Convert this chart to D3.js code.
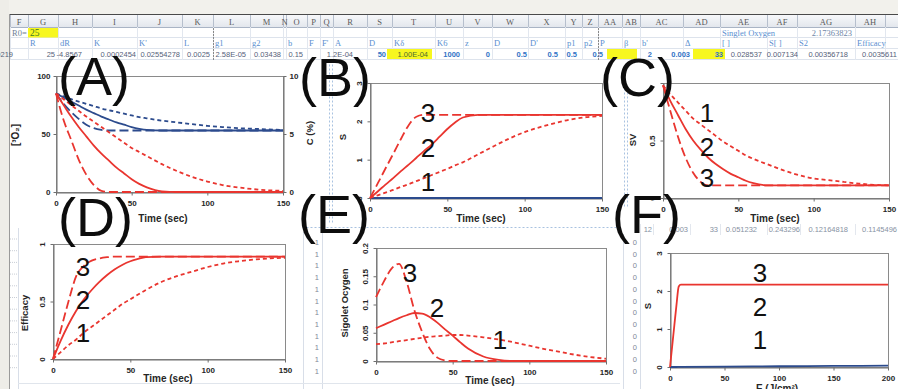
<!DOCTYPE html>
<html>
<head>
<meta charset="utf-8">
<script src="https://cdn.jsdelivr.net/npm/d3@7"></script>
<style>
  body { margin: 0; background: #fff; }
  svg { display: block; font-family: "Liberation Sans", Arial, sans-serif; }
</style>
</head>
<body>
<svg id="sheet" width="898" height="389"></svg>
<script>
// ---- data ----
// shared time grid (sec) for panels A-E
var time = [0,5,10,15,20,25,30,35,40,45,50,55,60,70,80,90,100,110,120,130,140,150];

// (A) ground state oxygen [3O2]
var o2Blue1 = [85,82.5,80,78,76,74,72,70.5,69,67.5,66,64.5,63.5,61.5,60,58.5,57,56,55,54.5,54,53.5];
var o2Blue2 = [85,81.5,78,74.5,71,68,65,62.5,60,58,56,54.5,53.5,53,53,53,53,53,53,53,53,53];
var o2Blue3 = [85,76,69,63,58,55,53.5,53,53,53,53,53,53,53,53,53,53,53,53,53,53,53];
var o2Red1  = [85,80,75,70,65,60.5,56,51.5,47,42.5,38,34.5,31,24,18,13,9,6,4,2.5,1.5,1];
var o2Red2  = [85,75,65,56,48,40,33,27,21,16,11,7,4,0.5,0,0,0,0,0,0,0,0];
var o2Red3  = [85,62,45,28,15,6,1,0,0,0,0,0,0,0,0,0,0,0,0,0,0,0];

// (B) S
var sRed1 = [0,0.07,0.14,0.21,0.29,0.36,0.44,0.52,0.6,0.68,0.76,0.85,0.93,1.14,1.35,1.55,1.72,1.85,1.96,2.05,2.11,2.14];
var sRed2 = [0,0.17,0.35,0.52,0.7,0.87,1.05,1.23,1.4,1.6,1.8,1.97,2.1,2.17,2.17,2.17,2.17,2.17,2.17,2.17,2.17,2.17];
var sRed3 = [0,0.38,0.77,1.15,1.54,1.9,2.12,2.17,2.17,2.17,2.17,2.17,2.17,2.17,2.17,2.17,2.17,2.17,2.17,2.17,2.17,2.17];
var sBlue = [0,0,0,0,0,0,0,0,0,0,0,0,0,0,0,0,0,0,0,0,0,0];

// (C) SV
var svRed1 = [0.98,0.9,0.83,0.76,0.69,0.64,0.59,0.54,0.49,0.45,0.41,0.37,0.34,0.29,0.24,0.2,0.17,0.155,0.14,0.125,0.115,0.11];
var svRed2 = [0.98,0.84,0.72,0.6,0.5,0.42,0.35,0.295,0.25,0.21,0.18,0.15,0.13,0.11,0.11,0.11,0.11,0.11,0.11,0.11,0.11,0.11];
var svRed3 = [0.98,0.75,0.53,0.35,0.22,0.14,0.11,0.11,0.11,0.11,0.11,0.11,0.11,0.11,0.11,0.11,0.11,0.11,0.11,0.11,0.11,0.11];

// (D) Efficacy
var effRed1 = [0,0.06,0.12,0.17,0.23,0.28,0.33,0.38,0.43,0.48,0.52,0.56,0.6,0.67,0.72,0.76,0.8,0.83,0.85,0.865,0.875,0.88];
var effRed2 = [0,0.16,0.3,0.42,0.52,0.6,0.67,0.73,0.78,0.82,0.85,0.87,0.885,0.89,0.89,0.89,0.89,0.89,0.89,0.89,0.89,0.89];
var effRed3 = [0,0.25,0.5,0.72,0.81,0.855,0.875,0.885,0.89,0.89,0.89,0.89,0.89,0.89,0.89,0.89,0.89,0.89,0.89,0.89,0.89,0.89];

// (E) singlet oxygen
var soRed1 = [0.030,0.031,0.033,0.035,0.037,0.039,0.041,0.043,0.044,0.045,0.046,0.046,0.045,0.042,0.038,0.033,0.027,0.021,0.016,0.011,0.007,0.004];
var soRed2 = [0.058,0.064,0.07,0.076,0.081,0.085,0.084,0.078,0.068,0.056,0.045,0.033,0.022,0.008,0.002,0,0,0,0,0,0,0];
var soRed3 = [0.113,0.14,0.163,0.172,0.14,0.09,0.052,0.022,0.006,0.001,0,0,0,0,0,0,0,0,0,0,0,0];

// (F) S against fluence E (J/cm2)
var fluence = [0,2,4,6,8,10,50,100,150,200];
var fRed  = [0,0.55,1.1,1.65,2.12,2.17,2.17,2.17,2.17,2.17];
var fBlue = [0,0,0,0,0.002,0.003,0.01,0.02,0.028,0.035];

// ---- spreadsheet text around the charts ----
var colEdges = [10,28,58,92,137,182,213,250,283,286,307,320,333,367,392,435,463,492,528,565,582,598,622,640,683,720,767,797,855,885,898];
var colNames = ["F","G","H","I","J","K","L","M","N","O","P","Q","R","S","T","U","V","W","X","Y","Z","AA","AB","AC","AD","AE","AF","AG","AH",""];
var row3Labels = ["","R","dR","K","K'","L","g1","g2","","b","F","F'","A","D","K\u03b4","K6","z","D","D'","p1","p2","P","\u03b2","b'","\u0394","[ ]","S[ ]","S2","Efficacy",""];
var row4Text  = ["0219","25","-4.8567","0.0002454","0.02554278","0.0025","2.58E-05","0.03438","0.15","1.2E-04","50","1.00E-04","1000","0","0.5","0.5","0.5","0.5","2","0.003","33","0.028537","0.007134","0.00356718","0.0035611"];
var row4Right = [13,55,82,136,180,210,246,281,303,353,386,428,460,490,527,558,577,603,652,690,723,762,798,848,897];
var row4Bold  = [false,false,false,false,false,false,false,false,false,false,true,false,true,true,true,true,true,true,true,true,true,false,false,false,false];
var midRowText  = ["12","0.003","33","0.051232","0.243296","0.12164818","0.1145496"];
var midRowRight = [652,688,718,757,800,848,897];

var red = "#e9352f", blue = "#2c4b8d";
var dashes = { short: "4,3", long: "9,4", solid: null };

var svg = d3.select("#sheet");

// ---- sheet background ----
svg.append("rect").attr("width", 898).attr("height", 389).attr("fill", "#fff");
svg.append("rect").attr("width", 898).attr("height", 14).attr("fill", "#f2f1ec");
svg.append("rect").attr("width", 9).attr("height", 389).attr("fill", "#eeede8");
svg.append("line").attr("x1", 9).attr("x2", 898).attr("y1", 14.5).attr("y2", 14.5).attr("stroke", "#4a4a4a");
svg.append("line").attr("x1", 9.5).attr("x2", 9.5).attr("y1", 14).attr("y2", 389).attr("stroke", "#9a9a9a");

var grad = svg.append("defs").append("linearGradient").attr("id", "hdr").attr("x1", 0).attr("x2", 0).attr("y1", 0).attr("y2", 1);
grad.append("stop").attr("offset", 0).attr("stop-color", "#f7f8fa");
grad.append("stop").attr("offset", 1).attr("stop-color", "#e3e7ed");
svg.append("rect").attr("x", 10).attr("y", 15).attr("width", 888).attr("height", 12).attr("fill", "url(#hdr)");

var sheet = svg.append("g").attr("class", "cells");
[27.5, 37.5, 48.5, 59.5].forEach(function(yy, i) {
  sheet.append("line").attr("x1", 10).attr("x2", 898).attr("y1", yy).attr("y2", yy)
    .attr("stroke", i === 0 ? "#a9b4c5" : "#dde3ec");
});
colEdges.forEach(function(xx) {
  sheet.append("line").attr("x1", xx + 0.5).attr("x2", xx + 0.5).attr("y1", 15).attr("y2", 27).attr("stroke", "#b6bfcd");
  sheet.append("line").attr("x1", xx + 0.5).attr("x2", xx + 0.5).attr("y1", 27).attr("y2", 60).attr("stroke", "#e2e7ef");
});
colNames.forEach(function(n, i) {
  sheet.append("text").attr("x", (colEdges[i] + colEdges[i + 1]) / 2).attr("y", 24.5)
    .attr("text-anchor", "middle").attr("font-family", "Liberation Serif, serif").attr("font-size", 8.5)
    .attr("fill", "#5b5b5b").text(n);
});
// page break lines
[213, 598].forEach(function(xx) {
  sheet.append("line").attr("x1", xx + 0.5).attr("x2", xx + 0.5).attr("y1", 28).attr("y2", 60)
    .attr("stroke", "#888").attr("stroke-dasharray", "2,1");
});

// row 2
sheet.append("rect").attr("x", 28).attr("y", 28).attr("width", 30).attr("height", 9.5).attr("fill", "#f7f71f");
sheet.append("text").attr("x", 12).attr("y", 35.5).attr("font-family", "Liberation Serif, serif").attr("font-size", 8.5).attr("fill", "#6f7f95").text("R0=");
sheet.append("text").attr("x", 30).attr("y", 36).attr("font-family", "Liberation Serif, serif").attr("font-size", 9.5).attr("fill", "#3b7a25").text("25");
sheet.append("text").attr("x", 722).attr("y", 35.5).attr("font-family", "Liberation Serif, serif").attr("font-size", 8.5).attr("fill", "#5b8fd0").text("Singlet Oxygen");
sheet.append("text").attr("x", 852).attr("y", 35.5).attr("text-anchor", "end").attr("font-family", "Liberation Serif, serif").attr("font-size", 8.5).attr("fill", "#6f87a8").text("2.17363823");

// row 3 labels
row3Labels.forEach(function(t, i) {
  if (!t) return;
  sheet.append("text").attr("x", colEdges[i] + 2).attr("y", 46).attr("font-family", "Liberation Serif, serif")
    .attr("font-size", 8.5).attr("fill", "#5b8fd0").text(t);
});

// row 4 numbers
[[387, 45], [607, 30], [693, 32]].forEach(function(r) {
  sheet.append("rect").attr("x", r[0]).attr("y", 49).attr("width", r[1]).attr("height", 10).attr("fill", "#f7f71f");
});
row4Text.forEach(function(t, i) {
  sheet.append("text").attr("x", row4Right[i]).attr("y", 57).attr("text-anchor", "end")
    .attr("font-size", 7.5).attr("font-weight", row4Bold[i] ? "bold" : "normal")
    .attr("fill", t === "1.00E-04" ? "#4d6b2f" : (row4Bold[i] ? "#3273c6" : "#56627a")).text(t);
});

// strips of sheet showing between the charts
midRowText.forEach(function(t, i) {
  sheet.append("text").attr("x", midRowRight[i]).attr("y", 232).attr("text-anchor", "end")
    .attr("font-size", 7.5).attr("fill", "#8792a3").text(t);
});
[640, 653, 690, 720, 767, 800, 855].forEach(function(xx) {
  sheet.append("line").attr("x1", xx + 0.5).attr("x2", xx + 0.5).attr("y1", 224).attr("y2", 235).attr("stroke", "#e3e7ee");
});
d3.range(12).forEach(function(k) {
  var yy = 245 + k * 11.7;
  sheet.append("text").attr("x", 319).attr("y", yy).attr("text-anchor", "end").attr("font-size", 7.5).attr("fill", "#7d8797").text("1");
  sheet.append("text").attr("x", 637).attr("y", yy).attr("text-anchor", "end").attr("font-size", 7.5).attr("fill", "#7d8797").text("0");
  sheet.append("line").attr("x1", 10).attr("x2", 17).attr("y1", yy - 6).attr("y2", yy - 6).attr("stroke", "#c9ced6").attr("stroke-dasharray", "1,1");
});
[[303, 232], [322, 232], [623, 234], [640, 234], [18, 228]].forEach(function(v) {
  sheet.append("line").attr("x1", v[0] + 0.5).attr("x2", v[0] + 0.5).attr("y1", v[1]).attr("y2", 389).attr("stroke", "#d8dee8");
});
// selection frames of the chart objects
[[329, 60, 329, 224], [332, 60, 332, 224], [624, 88, 624, 206], [627, 88, 627, 206], [302, 227, 620, 227]].forEach(function(l) {
  sheet.append("line").attr("x1", l[0] + 0.5).attr("y1", l[1] + 0.5).attr("x2", l[2] + 0.5).attr("y2", l[3] + 0.5)
    .attr("stroke", "#a9c2e0").attr("stroke-dasharray", "2,2");
});
sheet.append("line").attr("x1", 18).attr("x2", 620).attr("y1", 383.5).attr("y2", 383.5).attr("stroke", "#e0e5ec");

// ---- one Excel style chart ----
function drawPanel(p) {
  var x = d3.scaleLinear().domain(p.xDomain).range([p.box[0], p.box[2]]);
  var y = d3.scaleLinear().domain(p.yDomain).range([p.box[3], p.box[1]]);
  var g = svg.append("g");

  g.append("rect").attr("x", p.box[0] + 0.5).attr("y", p.box[1] + 0.5)
    .attr("width", p.box[2] - p.box[0]).attr("height", p.box[3] - p.box[1])
    .attr("fill", "#fff").attr("stroke", "#8a8a8a");

  var xAxis = g.append("g").attr("transform", "translate(0," + (p.box[3] + 0.5) + ")")
    .call(d3.axisBottom(x).tickValues(p.xTicks).tickSize(3).tickSizeOuter(0).tickPadding(5).tickFormat(d3.format("d")));
  var yAxis = g.append("g").attr("transform", "translate(" + (p.box[0] + 0.5) + ",0)")
    .call(d3.axisLeft(y).tickValues(p.yTicks).tickSize(3).tickSizeOuter(0).tickFormat(p.yFormat));
  var axes = [xAxis, yAxis];

  if (p.right) {
    var yR = d3.scaleLinear().domain(p.right.domain).range([p.box[3], p.box[1]]);
    axes.push(g.append("g").attr("transform", "translate(" + (p.box[2] + 0.5) + ",0)")
      .call(d3.axisRight(yR).tickValues(p.right.ticks).tickSize(3).tickSizeOuter(0)));
  }
  axes.forEach(function(a) {
    a.select(".domain").attr("stroke", "#6e6e6e");
    a.selectAll(".tick line").attr("stroke", "#6e6e6e");
    a.selectAll("text").attr("fill", "#262626").attr("font-size", 8).attr("font-weight", "bold")
      .attr("font-family", "Liberation Sans, Arial, sans-serif");
  });
  if (p.rotateY) {
    yAxis.selectAll(".tick text").attr("x", 0).attr("dy", "0.35em").attr("text-anchor", "middle")
      .attr("transform", "translate(-11,0) rotate(-90)");
  }

  var line = d3.line().x(function(d, i) { return x(p.xs[i]); }).y(function(d) { return y(d); })
    .curve(d3.curveMonotoneX);
  p.series.forEach(function(s) {
    g.append("path").datum(s.values).attr("d", line).attr("fill", "none")
      .attr("stroke", s.color).attr("stroke-width", 1.8)
      .attr("stroke-dasharray", dashes[s.dash]);
  });

  g.append("text").attr("x", p.xTitle[0]).attr("y", p.xTitle[1]).attr("text-anchor", "middle")
    .attr("font-size", 10).attr("font-weight", "bold").attr("fill", "#262626").text(p.xLabel);
  p.yTitles.forEach(function(t) {
    g.append("text").attr("transform", "translate(" + t.x + "," + t.y + ") rotate(-90)")
      .attr("text-anchor", "middle").attr("dy", "0.35em").attr("font-size", t.size || 9.5)
      .attr("font-weight", "bold").attr("fill", "#262626").text(t.text);
  });
}

var panels = [
  { box: [56, 76, 283, 192], xs: time, xDomain: [0, 150], xTicks: [0, 50, 100, 150],
    yDomain: [0, 100], yTicks: [0, 50, 100], yFormat: d3.format("d"), rotateY: false,
    right: { domain: [0, 10], ticks: [0, 5, 10] },
    xLabel: "Time (sec)", xTitle: [163, 222],
    yTitles: [{ x: 15, y: 135, text: "[\u00b3O\u2082]", size: 10 }, { x: 310, y: 133, text: "C (%)", size: 9.5 }],
    series: [
      { values: o2Blue1, color: blue, dash: "short" },
      { values: o2Blue2, color: blue, dash: "solid" },
      { values: o2Blue3, color: blue, dash: "long" },
      { values: o2Red1, color: red, dash: "short" },
      { values: o2Red2, color: red, dash: "solid" },
      { values: o2Red3, color: red, dash: "long" }
    ] },
  { box: [370, 83, 602, 198], xs: time, xDomain: [0, 150], xTicks: [0, 50, 100, 150],
    yDomain: [0, 3], yTicks: [0, 1, 2, 3], yFormat: d3.format("d"), rotateY: true,
    xLabel: "Time (sec)", xTitle: [481, 222],
    yTitles: [{ x: 343, y: 137, text: "S" }],
    series: [
      { values: sBlue, color: blue, dash: "solid" },
      { values: sRed1, color: red, dash: "short" },
      { values: sRed2, color: red, dash: "solid" },
      { values: sRed3, color: red, dash: "long" }
    ] },
  // top label of this axis sits under the (C) tag in the original, so only 0 and 0.5 are written
  { box: [663, 83, 889, 198], xs: time, xDomain: [0, 150], xTicks: [0, 50, 100, 150],
    yDomain: [0, 1], yTicks: [0, 0.5, 1], yFormat: function(d) { return d === 1 ? "" : d3.format("~g")(d); }, rotateY: true,
    xLabel: "Time (sec)", xTitle: [775, 222],
    yTitles: [{ x: 633, y: 140, text: "SV" }],
    series: [
      { values: svRed1, color: red, dash: "short" },
      { values: svRed2, color: red, dash: "solid" },
      { values: svRed3, color: red, dash: "long" }
    ] },
  { box: [53, 244, 285, 359], xs: time, xDomain: [0, 150], xTicks: [0, 50, 100, 150],
    yDomain: [0, 1], yTicks: [0, 0.5, 1], yFormat: d3.format("~g"), rotateY: true,
    xLabel: "Time (sec)", xTitle: [168, 382],
    yTitles: [{ x: 25, y: 313, text: "Efficacy" }],
    series: [
      { values: effRed1, color: red, dash: "short" },
      { values: effRed2, color: red, dash: "solid" },
      { values: effRed3, color: red, dash: "long" }
    ] },
  { box: [376, 248, 606, 361], xs: time, xDomain: [0, 150], xTicks: [0, 50, 100, 150],
    yDomain: [0, 0.2], yTicks: [0, 0.05, 0.1, 0.15, 0.2], yFormat: d3.format("~g"), rotateY: true,
    xLabel: "Time (sec)", xTitle: [490, 384],
    yTitles: [{ x: 345, y: 303, text: "Sigolet Ocygen" }],
    series: [
      { values: soRed1, color: red, dash: "short" },
      { values: soRed2, color: red, dash: "solid" },
      { values: soRed3, color: red, dash: "long" }
    ] },
  { box: [670, 253, 888, 367], xs: fluence, xDomain: [0, 200], xTicks: [0, 50, 100, 150, 200],
    yDomain: [0, 3], yTicks: [0, 1, 2, 3], yFormat: d3.format("d"), rotateY: true,
    xLabel: "E (J/cm\u00b2)", xTitle: [777, 392],
    yTitles: [{ x: 648, y: 306, text: "S" }],
    series: [
      { values: fBlue, color: blue, dash: "solid" },
      { values: fRed, color: red, dash: "solid" }
    ] }
];
panels.forEach(drawPanel);

// ---- curve numbers and panel letters ----
var curveTags = [
  ["3", 428, 113], ["2", 428, 148], ["1", 428, 182],
  ["1", 707, 113], ["2", 707, 147], ["3", 707, 178],
  ["3", 83, 267], ["2", 83, 300], ["1", 83, 333],
  ["3", 410, 273], ["2", 437, 308], ["1", 500, 340],
  ["3", 760, 273], ["2", 760, 307], ["1", 760, 340]
];
curveTags.forEach(function(t) {
  svg.append("text").attr("x", t[1]).attr("y", t[2]).attr("dy", "0.36em").attr("text-anchor", "middle")
    .attr("font-size", 26).attr("fill", "#111").text(t[0]);
});
var panelTags = [["(A)", 58, 95], ["(B)", 299, 96], ["(C)", 600, 96], ["(D)", 58, 236], ["(E)", 298, 233], ["(F)", 612, 233]];
panelTags.forEach(function(t) {
  svg.append("text").attr("x", t[1]).attr("y", t[2]).attr("font-size", 54).attr("fill", "#0d0d0d").text(t[0]);
});
</script>
</body>
</html>
